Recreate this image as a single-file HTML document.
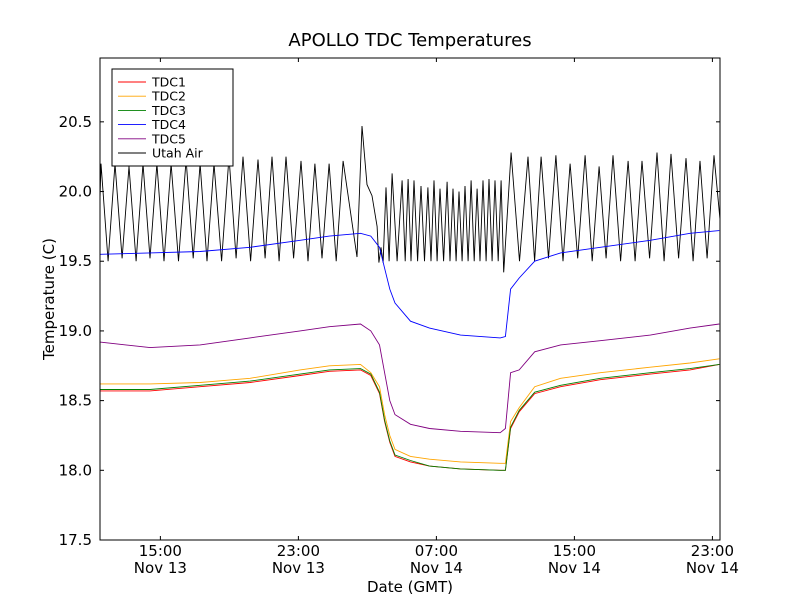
<!DOCTYPE html>
<html><head><meta charset="utf-8"><style>
body{margin:0;background:#fff;}
svg text{font-family:"DejaVu Sans","Liberation Sans",sans-serif;}
</style></head><body>
<svg id="chart" width="800" height="600" xmlns="http://www.w3.org/2000/svg">
<rect width="800" height="600" fill="#fff"/>
<text x="410" y="46" font-size="18" text-anchor="middle">APOLLO TDC Temperatures</text>
<text x="0" y="0" font-size="15" text-anchor="middle" transform="translate(54,299) rotate(-90)">Temperature (C)</text>
<text x="410" y="592" font-size="15" text-anchor="middle">Date (GMT)</text>
<g id="series"></g>
<g id="axes"></g>
<rect x="100" y="58" width="620" height="482" fill="none" stroke="#000" stroke-width="1"/>
<g id="legend"></g>
</svg>
<script>
// hours since 11:30 Nov 13 (GMT)
const T=[0,2.9,5.8,8.7,11.6,13.3,15.1,15.7,16.2,16.5,16.8,17.1,18.0,19.1,20.9,23.2,23.5,23.8,24.3,25.2,26.7,29.0,31.9,34.2,35.9];
const tdc1=[18.57,18.57,18.6,18.63,18.68,18.71,18.72,18.68,18.55,18.35,18.2,18.1,18.06,18.03,18.01,18.0,18.0,18.3,18.42,18.55,18.6,18.65,18.69,18.72,18.76];
const tdc2=[18.62,18.62,18.63,18.66,18.72,18.75,18.76,18.7,18.6,18.4,18.25,18.15,18.1,18.08,18.06,18.05,18.05,18.35,18.45,18.6,18.66,18.7,18.74,18.77,18.8];
const tdc3=[18.58,18.58,18.61,18.64,18.69,18.72,18.73,18.69,18.56,18.36,18.21,18.11,18.07,18.03,18.01,18.0,18.0,18.31,18.43,18.56,18.61,18.66,18.7,18.73,18.76];
const tdc4=[19.55,19.56,19.57,19.6,19.65,19.68,19.7,19.68,19.6,19.45,19.3,19.2,19.07,19.02,18.97,18.95,18.96,19.3,19.38,19.5,19.56,19.6,19.65,19.7,19.72];
const tdc5=[18.92,18.88,18.9,18.95,19.0,19.03,19.05,19.0,18.9,18.7,18.5,18.4,18.33,18.3,18.28,18.27,18.3,18.7,18.72,18.85,18.9,18.93,18.97,19.02,19.05];
const airT=[0,0.06,0.47,0.87,1.28,1.68,2.09,2.49,2.9,3.3,3.71,4.12,4.55,4.99,5.4,5.8,6.2,6.61,7.05,7.48,7.89,8.29,8.73,9.16,9.57,9.97,10.38,10.78,11.22,11.65,12.06,12.46,12.87,13.28,13.69,14.09,14.9,15.19,15.48,15.77,16.06,16.17,16.29,16.41,16.58,16.76,16.93,17.22,17.51,17.69,17.86,18.03,18.2,18.41,18.61,18.81,19.01,19.19,19.36,19.54,19.71,19.92,20.12,20.29,20.46,20.64,20.81,20.99,21.16,21.34,21.51,21.69,21.86,22.03,22.2,22.38,22.55,22.73,22.9,23.08,23.25,23.4,23.83,24.32,24.81,25.19,25.57,26.0,26.43,26.84,27.25,27.69,28.12,28.53,28.93,29.34,29.74,30.18,30.61,31.02,31.42,31.86,32.29,32.7,33.1,33.54,33.97,34.38,34.78,35.19,35.59,35.94];
const airV=[19.95,20.2,19.5,20.2,19.52,20.18,19.5,20.2,19.52,20.2,19.5,20.2,19.5,20.23,19.52,20.2,19.5,20.2,19.5,20.25,19.52,20.25,19.5,20.23,19.52,20.25,19.5,20.25,19.52,20.22,19.5,20.2,19.52,20.2,19.5,20.22,19.53,20.47,20.05,19.97,19.75,19.49,19.6,19.49,20.03,19.5,20.13,19.5,20.08,19.5,20.09,19.5,20.08,19.5,20.04,19.5,20.03,19.5,20.08,19.5,20.02,19.5,20.07,19.5,20.02,19.5,20.0,19.5,20.04,19.5,20.08,19.5,20.02,19.5,20.08,19.5,20.09,19.5,20.08,19.5,20.08,19.42,20.28,19.5,20.25,19.5,20.25,19.52,20.26,19.5,20.2,19.52,20.26,19.5,20.18,19.52,20.26,19.5,20.22,19.5,20.22,19.52,20.28,19.5,20.27,19.52,20.24,19.5,20.22,19.52,20.26,19.8];
const yTicks=[17.5,18.0,18.5,19.0,19.5,20.0,20.5];
const yTickLabels=["17.5","18.0","18.5","19.0","19.5","20.0","20.5"];
const xTicks=[3.5,11.5,19.5,27.5,35.5];
const xTickTimes=["15:00","23:00","07:00","15:00","23:00"];
const xTickDates=["Nov 13","Nov 13","Nov 14","Nov 14","Nov 14"];
const seriesNames=["TDC1","TDC2","TDC3","TDC4","TDC5","Utah Air"];
const seriesColors=["red","orange","green","blue","purple","black"];

const X0=100,X1=720,Y0=540,Y1=58,TMIN=0,TMAX=35.94,VMIN=17.5,VMAX=20.958;
function xs(t){return X0+(t-TMIN)/(TMAX-TMIN)*(X1-X0);}
function ys(v){return Y0-(v-VMIN)/(VMAX-VMIN)*(Y0-Y1);}
const NS="http://www.w3.org/2000/svg";
const sg=document.getElementById('series');
function line(ts,vs,color,name){
  const p=document.createElementNS(NS,'polyline');
  p.setAttribute('points',ts.map((t,i)=>xs(t).toFixed(1)+','+ys(vs[i]).toFixed(1)).join(' '));
  p.setAttribute('fill','none');p.setAttribute('stroke',color);p.setAttribute('stroke-width','0.9');
  
  
  sg.appendChild(p);
}
line(airT,airV,'black','series-utah-air');
line(T,tdc4,'blue','series-tdc4');
line(T,tdc5,'purple','series-tdc5');
line(T,tdc2,'orange','series-tdc2');
line(T,tdc1,'red','series-tdc1');
line(T,tdc3,'green','series-tdc3');

const ax=document.getElementById('axes');
yTicks.forEach((v,i)=>{
  const y=ys(v);
  [[X0,X0+4],[X1-4,X1]].forEach(([a,b])=>{
    const l=document.createElementNS(NS,'line');
    l.setAttribute('x1',a);l.setAttribute('x2',b);l.setAttribute('y1',y);l.setAttribute('y2',y);l.setAttribute('stroke','#000');
    
    
    ax.appendChild(l);
  });
  const t=document.createElementNS(NS,'text');
  t.setAttribute('x',92);t.setAttribute('y',y+5);t.setAttribute('font-size','15');t.setAttribute('text-anchor','end');
  t.textContent=yTickLabels[i];
  
  
  ax.appendChild(t);
});
xTicks.forEach((h,i)=>{
  const x=xs(h);
  [[Y0,Y0-4],[Y1,Y1+4]].forEach(([a,b])=>{
    const l=document.createElementNS(NS,'line');
    l.setAttribute('x1',x);l.setAttribute('x2',x);l.setAttribute('y1',a);l.setAttribute('y2',b);l.setAttribute('stroke','#000');
    
    
    ax.appendChild(l);
  });
  [[xTickTimes[i],556],[xTickDates[i],573]].forEach(([s,y])=>{
    const t=document.createElementNS(NS,'text');
    t.setAttribute('x',x);t.setAttribute('y',y+0);t.setAttribute('font-size','15');t.setAttribute('text-anchor','middle');
    t.textContent=s;
    
    
    ax.appendChild(t);
  });
});

const lg=document.getElementById('legend');
const box=document.createElementNS(NS,'rect');
box.setAttribute('x',112);box.setAttribute('y',69);box.setAttribute('width',121);box.setAttribute('height',97);
box.setAttribute('fill','#fff');box.setAttribute('stroke','#000');


lg.appendChild(box);
seriesNames.forEach((n,i)=>{
  const y=82+i*14.2;
  const l=document.createElementNS(NS,'line');
  l.setAttribute('x1',118);l.setAttribute('x2',146);l.setAttribute('y1',y);l.setAttribute('y2',y);
  l.setAttribute('stroke',seriesColors[i]);l.setAttribute('stroke-width','0.9');
  
  
  lg.appendChild(l);
  const t=document.createElementNS(NS,'text');
  t.setAttribute('x',152);t.setAttribute('y',y+4.5);t.setAttribute('font-size','12.5');
  t.textContent=n;
  
  
  lg.appendChild(t);
});
</script>
</body></html>
